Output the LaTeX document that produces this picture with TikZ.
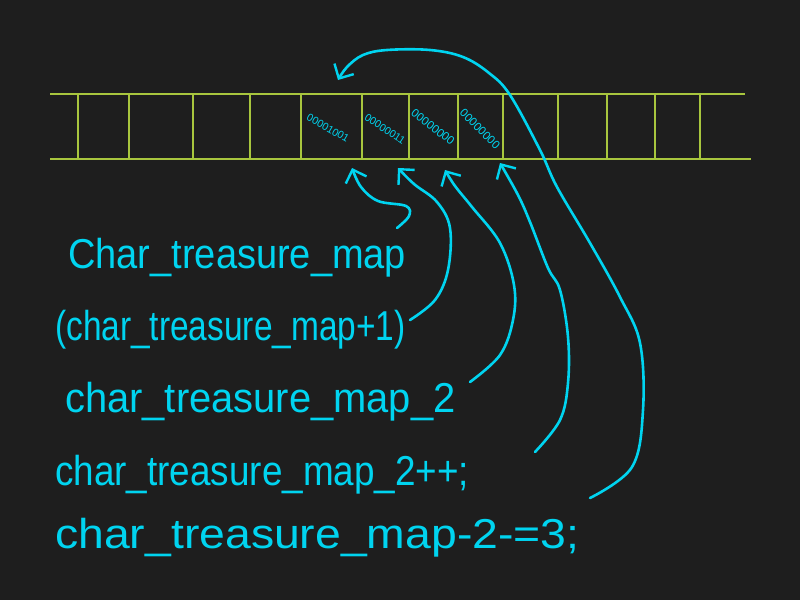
\documentclass[tikz,border=0pt]{standalone}
\usepackage{fontspec}
\setmainfont{Liberation Sans}
\usetikzlibrary{arrows.meta}
\definecolor{bg}{RGB}{30,30,30}
\definecolor{gridc}{RGB}{168,198,62}
\definecolor{ink}{RGB}{0,212,240}
\begin{document}
\begin{tikzpicture}[x=1pt,y=-1pt,
  gridline/.style={draw=gridc,line width=1.8pt},
  bits/.style={text=ink,inner sep=0pt},
  label/.style={text=ink,inner sep=0pt,anchor=base west,font=\fontsize{38}{40}\selectfont},
  pointer/.style={draw=ink,line width=2.6pt,line cap=round,line join=round,
    -{Straight Barb[length=11pt,width=22pt,line width=2.4pt]}}]
\fill[bg] (0,0) rectangle (800,600);
\useasboundingbox (0,0) rectangle (800,600);
% memory strip
\draw[gridline] (50,94) -- (745,94);
\draw[gridline] (50,159) -- (751,159);
\foreach \x in {78,129,193,250,301,362,409,458,503,558,607,655,700}
  \draw[gridline] (\x,94) -- (\x,159);
% bytes
\node[bits,rotate=-30,font=\fontsize{10.5}{11}\selectfont] (b1) at (328,128) {00001001};
\node[bits,rotate=-33,font=\fontsize{10.5}{11}\selectfont] (b2) at (385,129) {00000011};
\node[bits,rotate=-38,font=\fontsize{11.5}{12}\selectfont] (b3) at (433,127) {00000000};
\node[bits,rotate=-45,font=\fontsize{11.5}{12}\selectfont] (b4) at (480,129) {00000000};
% expressions
\node[label] (t1) at (68,268) {\scalebox{1}[1.1]{Char\_treasure\_map}};
\node[label] (t2) at (55,340) {\scalebox{0.88}[1.1]{(char\_treasure\_map+1)}};
\node[label] (t3) at (65,412) {\scalebox{1.05}[1.1]{char\_treasure\_map\_2}};
\node[label] (t4) at (55,485) {\scalebox{0.97}[1.1]{char\_treasure\_map\_2++;}};
\node[label] (t5) at (55,548) {\scalebox{1.22}[1.1]{char\_treasure\_map-2-=3;}};
% arrow ends
\coordinate (s1) at (397,228);
\coordinate (s2) at (410,320);
\coordinate (s3) at (470,382);
\coordinate (s4) at (535,452);
\coordinate (s5) at (590,498);
\coordinate (p1) at (352,168);
\coordinate (p2) at (398,168);
\coordinate (p3) at (445,170);
\coordinate (p4) at (500,163);
\coordinate (p5) at (338,80);
% pointers
\draw[pointer] plot[smooth,tension=0.6] coordinates {(s1) (409,216) (406,206) (378,201) (361,187) (p1)};
\draw[pointer] plot[smooth,tension=0.6] coordinates {(s2) (435,300) (448,270) (450,228) (437,202) (414,184) (p2)};
\draw[pointer] plot[smooth,tension=0.6] coordinates {(s3) (500,355) (513,320) (514,285) (500,243) (472,207) (455,186) (p3)};
\draw[pointer] plot[smooth,tension=0.6] coordinates {(s4) (560,420) (568,383) (568,337) (560,290) (548,268) (530,222) (518,195) (p4)};
\draw[pointer] plot[smooth,tension=0.6] coordinates {(s5) (632,467) (643,410) (640,343) (620,297) (590,243) (557,187) (540,150) (510,95) (489,73) (463,57) (430,50) (387,50) (363,55) (347,67) (p5)};
\end{tikzpicture}
\end{document}
